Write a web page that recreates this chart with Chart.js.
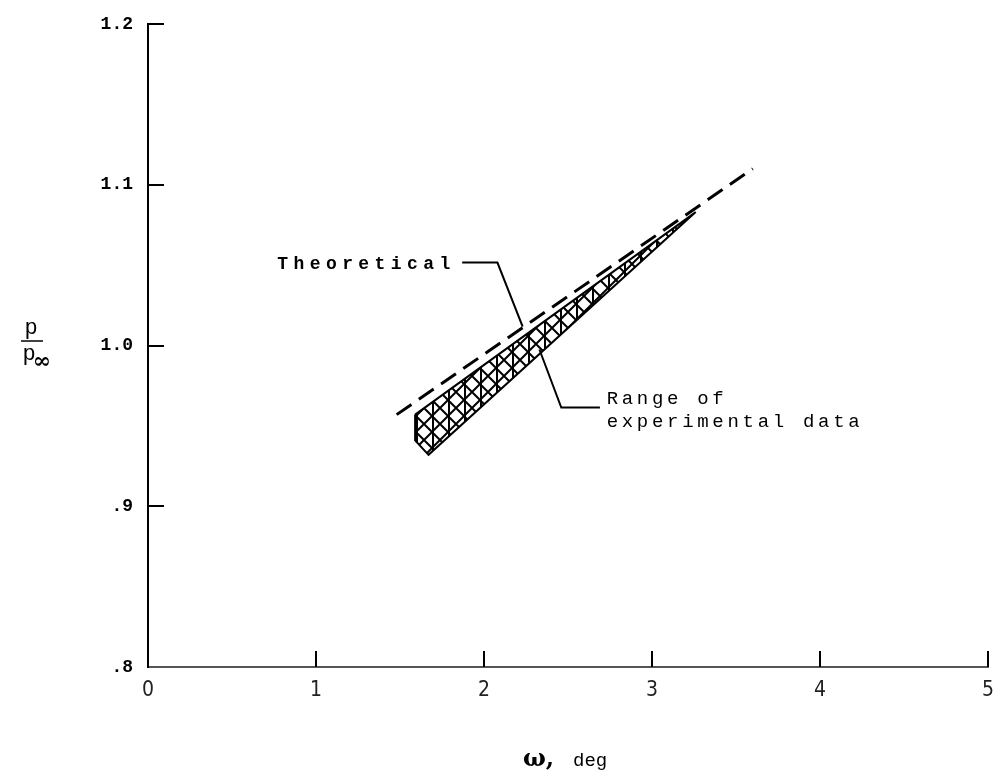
<!DOCTYPE html>
<html>
<head>
<meta charset="utf-8">
<script src="https://cdn.jsdelivr.net/npm/chart.js@4/dist/chart.umd.min.js"></script>
<style>
  html, body { margin: 0; background: #fff; }
</style>
</head>
<body>
<canvas id="chart" width="996" height="780"></canvas>
<script>
// axes
const omegaTicks = [0, 1, 2, 3, 4, 5];
const ratioTicks = [0.8, 0.9, 1.0, 1.1, 1.2];
const ratioTickLabels = ['.8', '.9', '1.0', '1.1', '1.2'];

// theoretical curve (dashed)
const theoryOmega = [1.48, 3.60];
const theoryRatio = [0.957, 1.110];

// outline of the experimental range (hatched band)
const bandOmega = [1.59, 3.26, 1.67, 1.59, 1.59];
const bandRatio = [0.957, 1.083, 0.932, 0.941, 0.957];

// leader lines for the two callouts, in data units
const theoryLeaderOmega = [1.87, 2.08, 2.23];
const theoryLeaderRatio = [1.0516, 1.0516, 1.0118];
const rangeLeaderOmega = [2.33, 2.46, 2.69];
const rangeLeaderRatio = [0.9975, 0.9614, 0.9614];

const toPoints = (xs, ys) => xs.map((x, i) => ({ x, y: ys[i] }));

// vertical lines crossed by both diagonals
function crossHatch() {
  const s = 16;
  const c = document.createElement('canvas');
  c.width = s; c.height = s;
  const g = c.getContext('2d');
  g.strokeStyle = '#000';
  g.lineWidth = 2;
  g.beginPath();
  g.moveTo(1, 0); g.lineTo(1, s);
  g.moveTo(-2, -2); g.lineTo(s + 2, s + 2);
  g.moveTo(-2, s + 2); g.lineTo(s + 2, -2);
  g.stroke();
  return g.createPattern(c, 'repeat');
}

const MONO = '"Liberation Mono", "DejaVu Sans Mono", monospace';

const decorations = {
  id: 'decorations',
  afterDraw(chart) {
    const { ctx, chartArea, scales: { x, y } } = chart;
    ctx.save();
    ctx.strokeStyle = '#000';
    ctx.lineWidth = 2;

    // tick marks point into the plot
    ctx.beginPath();
    ratioTicks.slice(1).forEach(v => {
      const py = Math.round(y.getPixelForValue(v));
      ctx.moveTo(chartArea.left, py);
      ctx.lineTo(chartArea.left + 16, py);
    });
    omegaTicks.slice(1).forEach(v => {
      const px = Math.round(x.getPixelForValue(v));
      ctx.moveTo(px, chartArea.bottom);
      ctx.lineTo(px, chartArea.bottom - 16);
    });
    ctx.stroke();

    // callout leaders
    const leader = (xs, ys) => {
      ctx.beginPath();
      xs.forEach((v, i) => {
        const px = x.getPixelForValue(v), py = y.getPixelForValue(ys[i]);
        i ? ctx.lineTo(px, py) : ctx.moveTo(px, py);
      });
      ctx.stroke();
    };
    leader(theoryLeaderOmega, theoryLeaderRatio);
    leader(rangeLeaderOmega, rangeLeaderRatio);

    ctx.fillStyle = '#000';
    ctx.textBaseline = 'alphabetic';
    ctx.textAlign = 'left';

    ctx.font = 'bold 18px ' + MONO;
    ctx.letterSpacing = '5.4px';
    ctx.fillText('Theoretical', x.getPixelForValue(0.77), y.getPixelForValue(1.0473));

    ctx.font = '19px ' + MONO;
    ctx.letterSpacing = '3.7px';
    ctx.fillText('Range of', x.getPixelForValue(2.73), y.getPixelForValue(0.9639));
    ctx.fillText('experimental data', x.getPixelForValue(2.73), y.getPixelForValue(0.9496));
    ctx.letterSpacing = '0px';

    // y axis title: p / p∞
    ctx.font = '22px ' + MONO;
    ctx.textAlign = 'center';
    ctx.fillText('p', 31, 334);
    ctx.beginPath();
    ctx.lineWidth = 1.5;
    ctx.moveTo(21, 341); ctx.lineTo(43, 341);
    ctx.stroke();
    ctx.fillText('p', 29, 360);
    ctx.font = 'bold 22px "DejaVu Serif", serif';
    ctx.fillText('\u221E', 42, 368);

    // x axis title
    const cx = (chartArea.left + chartArea.right) / 2;
    ctx.textAlign = 'left';
    ctx.font = 'bold 24px "DejaVu Serif", serif';
    ctx.fillText('\u03C9,', cx - 45, 766);
    ctx.font = '19px ' + MONO;
    ctx.fillText('deg', cx + 5, 766);
    ctx.restore();
  }
};

new Chart(document.getElementById('chart'), {
  type: 'scatter',
  data: {
    datasets: [
      {
        data: toPoints(bandOmega, bandRatio),
        showLine: true,
        fill: 'shape',
        backgroundColor: crossHatch(),
        borderColor: '#000',
        borderWidth: 2,
        pointRadius: 0,
        tension: 0
      },
      {
        data: toPoints(theoryOmega, theoryRatio),
        showLine: true,
        fill: false,
        borderColor: '#000',
        borderWidth: 3,
        borderDash: [18, 9],
        pointRadius: 0
      }
    ]
  },
  options: {
    responsive: false,
    animation: false,
    devicePixelRatio: 1,
    layout: { padding: { top: 24, right: 8, left: 0, bottom: 0 } },
    plugins: { legend: { display: false }, tooltip: { enabled: false } },
    scales: {
      x: {
        type: 'linear',
        min: 0,
        max: 5,
        afterBuildTicks: s => { s.ticks = omegaTicks.map(v => ({ value: v })); },
        afterFit: s => { s.height = 113; s.paddingRight = 0; s.paddingLeft = 0; },
        grid: { display: false },
        border: { display: true, color: '#555', width: 2 },
        ticks: {
          padding: 3,
          color: '#222',
          font: { family: '"Liberation Sans Narrow", "DejaVu Sans Condensed", sans-serif', size: 21 },
          callback: v => String(v)
        }
      },
      y: {
        type: 'linear',
        min: 0.8,
        max: 1.2,
        afterBuildTicks: s => { s.ticks = ratioTicks.map(v => ({ value: v })); },
        afterFit: s => { s.width = 148; s.paddingTop = 0; s.paddingBottom = 0; },
        grid: { display: false },
        border: { display: true, color: '#000', width: 2 },
        ticks: {
          padding: 7,
          color: '#000',
          font: { family: MONO, size: 18, weight: 'bold' },
          callback: (v, i) => ratioTickLabels[i]
        }
      }
    }
  },
  plugins: [decorations]
});
</script>
</body>
</html>
